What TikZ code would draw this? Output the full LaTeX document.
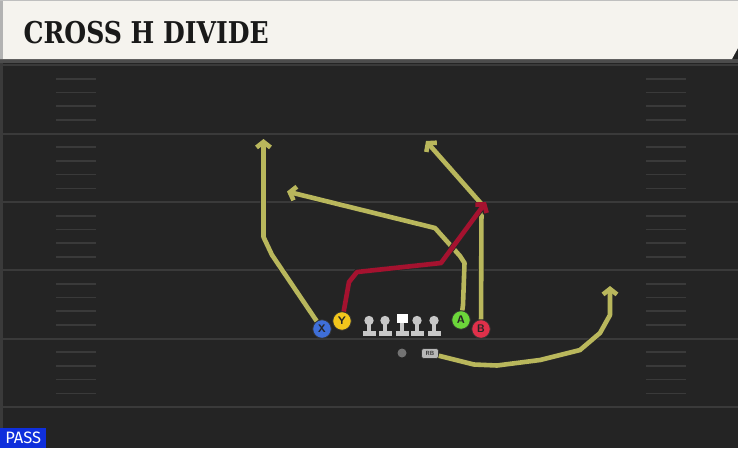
\documentclass[tikz,border=0pt]{standalone}
\usepackage{fontspec}
\usetikzlibrary{arrows.meta}
\newfontfamily\titlefont[FakeStretch=0.93]{DejaVu Serif Condensed}
\newfontfamily\tagfont{Fira Sans}
\definecolor{field}{HTML}{242424}
\definecolor{yardline}{HTML}{3A3A3A}
\definecolor{cream}{HTML}{F5F3EE}
\definecolor{routeyel}{HTML}{B9B75C}
\definecolor{routered}{HTML}{A5122F}
\definecolor{xblue}{HTML}{3F6FD8}
\definecolor{yyellow}{HTML}{F2C61C}
\definecolor{agreen}{HTML}{6CD63A}
\definecolor{bred}{HTML}{E0304A}
\definecolor{passblue}{HTML}{0F2FDC}
\tikzset{
  player/.style={circle,draw=black!80,line width=0.8pt,inner sep=0pt,minimum size=18.5pt,
    font=\sffamily\bfseries\fontsize{11}{11}\selectfont,text=black!85},
  route/.style={line width=4.6pt,line join=round,
    preaction={draw=black!85,line width=6.2pt},
    -{Straight Barb[length=5.5pt,width=14pt]}},
  lineman/.style={fill=black!22}
}
\begin{document}
\begin{tikzpicture}[x=1pt,y=-1pt]
	    \useasboundingbox (0,0) rectangle (738,448);
	    \fill[field] (0,0) rectangle (738,448);
	    \fill[yardline] (0,59) rectangle (2.5,448);
	    \fill[black!70] (0,59) rectangle (738,63);
	    % yard lines and hash marks
	    \foreach \y in {65,133.5,202,270,338.5,407}
	        \draw[yardline,line width=2pt] (2.5,\y)--(738,\y);
	    \foreach \y in {65,133.5,202,270,338.5}
	        \foreach \k in {1,...,4} {
	            \draw[yardline,line width=1.6pt] (56,\y+\k*13.7)--(96,\y+\k*13.7);
	            \draw[yardline,line width=1.6pt] (646,\y+\k*13.7)--(686,\y+\k*13.7);
	        }
	    % title band
	    \fill[cream] (0,0)--(738,0)--(738,48)--(732,59)--(0,59)--cycle;
	    \fill[black!30] (0,0) rectangle (3,59);
	    \draw[black!25,line width=0.8pt] (0,0.4)--(738,0.4);
	    \node[anchor=base west,text=black!90,font=\titlefont\bfseries\fontsize{30}{30}\selectfont] (title) at (20,43) {CROSS H DIVIDE};
	    % players
	    \node[player,fill=xblue] (X) at (322,329) {X};
	    \node[player,fill=yyellow] (Y) at (342,321) {Y};
	    \node[player,fill=agreen] (A) at (461,320) {A};
	    \node[player,fill=bred] (B) at (481,329) {B};
	    \node[circle,fill=black!55,inner sep=0pt,minimum size=9pt] (QB) at (402,353) {};
	    \node[rounded corners=2.5pt,fill=black!28,draw=black!80,line width=0.6pt,inner sep=0pt,
	        minimum width=17pt,minimum height=10pt,font=\sffamily\bfseries\fontsize{6}{6}\selectfont,text=black!80] (RB) at (430,353.5) {RB};
	    \foreach \x in {369,385,417,434} {
	        \fill[lineman] (\x,320.5) circle (4.7);
	        \fill[lineman] (\x-2,323) rectangle (\x+2,331);
	        \fill[lineman] (\x-6.5,330.5) rectangle (\x+6.5,335.5);
	    }
	    \fill[white] (396.5,313.5) rectangle (407.5,323);
	    \fill[lineman] (400,323) rectangle (404,331);
	    \fill[lineman] (395.5,330.5) rectangle (408.5,335.5);
	    % routes
	    \coordinate (xend) at (263.5,139);
	    \coordinate (aend) at (287,191.5);
	    \coordinate (bend) at (426,141);
	    \coordinate (yend) at (486,202);
	    \coordinate (rbend) at (610,286);
	    \draw[route,routeyel] (X)--(272,255)--(263.5,237)--(xend);
	    \draw[route,routeyel] (A)--(463,305)--(464.5,263)--(460,256)--(435,228)--(aend);
	    \draw[route,routeyel] (B)--(481.5,204)--(bend);
	    \draw[route,routered] (Y)--(349,282)--(357,272)--(441,263)--(yend);
	    \draw[route,routeyel] (RB)--(474,364.5)--(497,365.5)--(540,360)--(580,350)--(600,333)--(610,315)--(rbend);
	    % play type tag
	    \node[anchor=south west,fill=passblue,text=white,inner sep=0pt,minimum width=46pt,minimum height=20pt,
	        font=\tagfont\fontsize{16.5}{16.5}\selectfont] (pass) at (0,448) {PASS};
	\end{tikzpicture}
\end{document}
